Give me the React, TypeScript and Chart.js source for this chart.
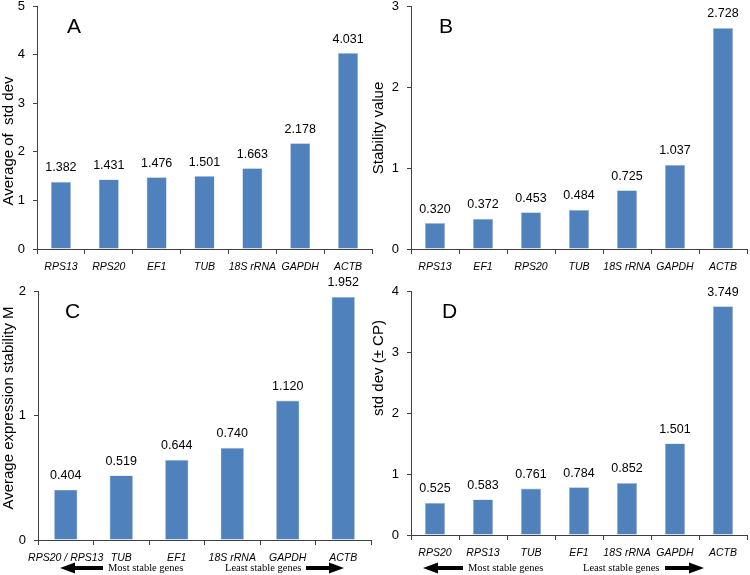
import React, { useEffect, useRef } from "react";
import { Chart, registerables } from "chart.js";

Chart.register(...registerables);

// ---------- data ----------
const genesA = ["RPS13", "RPS20", "EF1", "TUB", "18S rRNA", "GAPDH", "ACTB"];
const valuesA = [1.382, 1.431, 1.476, 1.501, 1.663, 2.178, 4.031];

const genesB = ["RPS13", "EF1", "RPS20", "TUB", "18S rRNA", "GAPDH", "ACTB"];
const valuesB = [0.32, 0.372, 0.453, 0.484, 0.725, 1.037, 2.728];

const genesC = ["RPS20 / RPS13", "TUB", "EF1", "18S rRNA", "GAPDH", "ACTB"];
const valuesC = [0.404, 0.519, 0.644, 0.74, 1.12, 1.952];

const genesD = ["RPS20", "RPS13", "TUB", "EF1", "18S rRNA", "GAPDH", "ACTB"];
const valuesD = [0.525, 0.583, 0.761, 0.784, 0.852, 1.501, 3.749];

const yMaxA = 5;
const yMaxB = 3;
const yMaxC = 2;
const yMaxD = 4;

const titleA = "Average of  std dev";
const titleB = "Stability value";
const titleC = "Average expression stability M";
const titleD = "std dev (\u00B1 CP)";

const mostStableText = "Most stable genes";
const leastStableText = "Least stable genes";

// ---------- styles ----------
const SANS = 'Arial, "Liberation Sans", sans-serif';
const SERIF = '"Times New Roman", "Liberation Serif", serif';
const BAR_COLOR = "#4F81BD";
const AXIS_COLOR = "#404040";

type Arrows = {
  y: number;
  leftTip: number;
  leftTail: number;
  mostX: number;
  leastX: number;
  rightTail: number;
  rightTip: number;
};

type PanelProps = {
  labels: string[];
  values: number[];
  yMax: number;
  title: string;
  letter: string;
  left: number;
  top: number;
  w: number;
  h: number;
  area: { l: number; r: number; t: number; b: number };
  titlePos: { x: number; y: number };
  letterPos: { x: number; y: number };
  arrows?: Arrows;
};

function drawArrow(ctx: CanvasRenderingContext2D, tailX: number, tipX: number, y: number) {
  const dir = Math.sign(tipX - tailX);
  const headLen = 15;
  const headHalf = 5.5;
  const shaft = 2;
  const base = tipX - dir * headLen;
  ctx.beginPath();
  ctx.moveTo(tailX, y - shaft);
  ctx.lineTo(base, y - shaft);
  ctx.lineTo(base, y - headHalf);
  ctx.lineTo(tipX, y);
  ctx.lineTo(base, y + headHalf);
  ctx.lineTo(base, y + shaft);
  ctx.lineTo(tailX, y + shaft);
  ctx.closePath();
  ctx.fill();
}

function Panel(props: PanelProps) {
  const ref = useRef<HTMLCanvasElement | null>(null);

  useEffect(() => {
    if (!ref.current) return;
    const p = props;

    const decorPlugin = {
      id: "decor",
      afterDatasetsDraw(chart: any) {
        const ctx: CanvasRenderingContext2D = chart.ctx;
        const meta = chart.getDatasetMeta(0);
        ctx.save();
        // value labels
        ctx.font = `12.5px ${SANS}`;
        ctx.fillStyle = "#000";
        ctx.textAlign = "center";
        ctx.textBaseline = "middle";
        meta.data.forEach((bar: any, i: number) => {
          const v = chart.data.datasets[0].data[i] as number;
          ctx.fillText(v.toFixed(3), bar.x, bar.y - 14);
        });
        // panel letter
        ctx.font = `21px ${SANS}`;
        ctx.textAlign = "left";
        ctx.textBaseline = "alphabetic";
        ctx.fillText(p.letter, p.letterPos.x, p.letterPos.y);
        // y title
        ctx.save();
        ctx.translate(p.titlePos.x, p.titlePos.y);
        ctx.rotate(-Math.PI / 2);
        ctx.font = `15px ${SANS}`;
        ctx.textAlign = "center";
        ctx.textBaseline = "middle";
        ctx.fillText(p.title, 0, 0);
        ctx.restore();
        // arrows
        if (p.arrows) {
          const a = p.arrows;
          ctx.fillStyle = "#000";
          drawArrow(ctx, a.leftTail, a.leftTip, a.y);
          drawArrow(ctx, a.rightTail, a.rightTip, a.y);
          ctx.font = `10.5px ${SERIF}`;
          ctx.textAlign = "left";
          ctx.textBaseline = "middle";
          ctx.fillText(mostStableText, a.mostX, a.y);
          ctx.fillText(leastStableText, a.leastX, a.y);
        }
        ctx.restore();
      },
    };

    const chart = new Chart(ref.current, {
      type: "bar",
      data: {
        labels: p.labels,
        datasets: [
          {
            data: p.values,
            backgroundColor: BAR_COLOR,
            borderColor: "#a9c0de",
            borderWidth: 0.6,
            barPercentage: 0.42,
            categoryPercentage: 1,
          },
        ],
      },
      options: {
        responsive: false,
        animation: false,
        events: [],
        layout: {
          padding: { top: p.area.t, right: p.w - p.area.r, bottom: 0, left: 0 },
        },
        plugins: {
          legend: { display: false },
          tooltip: { enabled: false },
        },
        scales: {
          x: {
            type: "category",
            offset: true,
            grid: {
              display: true,
              offset: true,
              drawOnChartArea: false,
              drawTicks: true,
              tickLength: 5,
              color: AXIS_COLOR,
            },
            border: { display: true, color: AXIS_COLOR, width: 1 },
            ticks: {
              font: { family: SANS, size: 10.5, style: "italic" },
              color: "#000",
              padding: 7,
              maxRotation: 0,
              minRotation: 0,
              autoSkip: false,
            },
            afterFit: (s: any) => {
              s.height = p.h - p.area.b;
              s.paddingLeft = 0;
              s.paddingRight = 0;
              s.paddingTop = 0;
              s.paddingBottom = 0;
            },
          },
          y: {
            min: 0,
            max: p.yMax,
            ticks: {
              stepSize: 1,
              font: { family: SANS, size: 13, lineHeight: 1 },
              color: "#000",
              padding: 8,
            },
            grid: {
              display: true,
              drawOnChartArea: false,
              drawTicks: true,
              tickLength: 4,
              color: AXIS_COLOR,
            },
            border: { display: true, color: AXIS_COLOR, width: 1 },
            afterFit: (s: any) => {
              s.width = p.area.l;
              s.paddingTop = 0;
              s.paddingBottom = 0;
              s.paddingLeft = 0;
              s.paddingRight = 0;
            },
          },
        },
      },
      plugins: [decorPlugin],
    });

    return () => {
      chart.destroy();
    };
  }, []);

  return (
    <canvas
      ref={ref}
      width={props.w}
      height={props.h}
      style={{
        position: "absolute",
        left: props.left,
        top: props.top,
        width: props.w,
        height: props.h,
      }}
    />
  );
}

export default function App() {
  return (
    <div
      style={{
        position: "fixed",
        left: 0,
        top: 0,
        width: 750,
        height: 575,
        background: "#fff",
        overflow: "hidden",
      }}
    >
      <Panel
        labels={genesA}
        values={valuesA}
        yMax={yMaxA}
        title={titleA}
        letter="A"
        left={0}
        top={0}
        w={375}
        h={285}
        area={{ l: 37, r: 372, t: 6, b: 249 }}
        titlePos={{ x: 9, y: 141 }}
        letterPos={{ x: 67, y: 33 }}
      />
      <Panel
        labels={genesB}
        values={valuesB}
        yMax={yMaxB}
        title={titleB}
        letter="B"
        left={369}
        top={0}
        w={381}
        h={285}
        area={{ l: 42, r: 378, t: 6, b: 249 }}
        titlePos={{ x: 10, y: 128 }}
        letterPos={{ x: 70, y: 33 }}
      />
      <Panel
        labels={genesC}
        values={valuesC}
        yMax={yMaxC}
        title={titleC}
        letter="C"
        left={0}
        top={272}
        w={375}
        h={303}
        area={{ l: 38, r: 371, t: 19, b: 268 }}
        titlePos={{ x: 9, y: 136 }}
        letterPos={{ x: 65, y: 46 }}
        arrows={{ y: 296, leftTip: 60, leftTail: 103, mostX: 108, leastX: 225, rightTail: 306, rightTip: 344 }}
      />
      <Panel
        labels={genesD}
        values={valuesD}
        yMax={yMaxD}
        title={titleD}
        letter="D"
        left={369}
        top={272}
        w={381}
        h={303}
        area={{ l: 42, r: 378, t: 19, b: 263 }}
        titlePos={{ x: 10, y: 96 }}
        letterPos={{ x: 73, y: 46 }}
        arrows={{ y: 296, leftTip: 54, leftTail: 94, mostX: 99, leastX: 214, rightTail: 296, rightTip: 335 }}
      />
    </div>
  );
}
